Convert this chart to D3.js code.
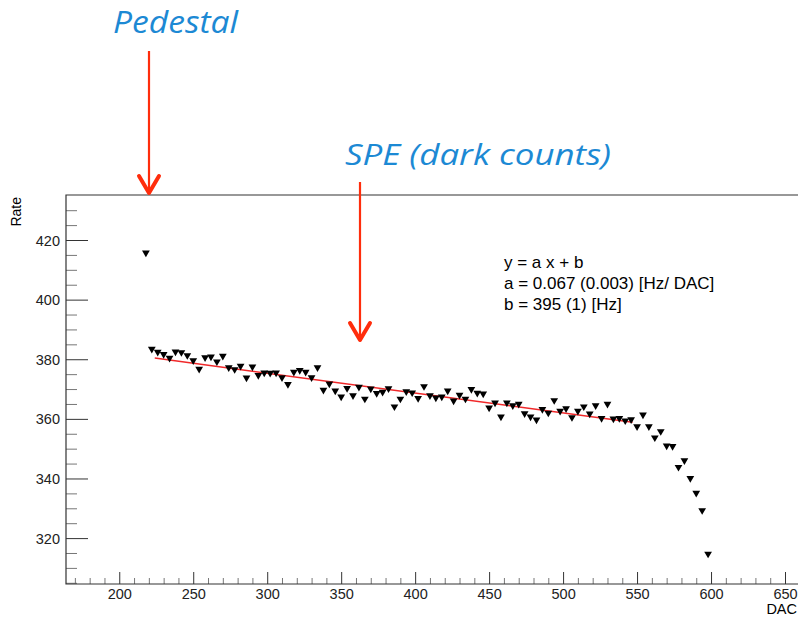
<!DOCTYPE html>
<html>
<head>
<meta charset="utf-8">
<script src="https://cdn.jsdelivr.net/npm/d3@7"></script>
<style>
  body { margin: 0; background: #fff; }
  svg { display: block; }
  .axis text { font-family: "Liberation Sans", Arial, sans-serif; font-size: 14.5px; fill: #222; }
</style>
</head>
<body>
<div id="chart"></div>
<script>
// DAC threshold scan (x) and counting rate (y)
const dacValues = [218, 222, 226, 230, 234, 238, 242, 246, 250, 254, 258, 262, 266, 270, 274, 278,
  282, 286, 290, 294, 298, 302, 306, 310, 314, 318, 322, 326, 330, 334, 338, 342,
  346, 350, 354, 358, 362, 366, 370, 374, 378, 382, 386, 390, 394, 398, 402, 406,
  410, 414, 418, 422, 426, 430, 434, 438, 442, 446, 450, 454, 458, 462, 466, 470,
  474, 478, 482, 486, 490, 494, 498, 502, 506, 510, 514, 518, 522, 526, 530, 534,
  538, 542, 546, 550, 554, 558, 562, 566, 570, 574, 578, 582, 586, 590, 594, 598];
const rateValues = [415.7, 383.4, 382.4, 381.7, 380.4, 382.5, 382.3, 381.3, 379.6, 376.7, 380.6, 380.8, 379.2, 381.1, 377.2, 376.6,
  377.7, 373.8, 377.5, 374.6, 375.5, 375.4, 375.5, 373.9, 371.6, 375.7, 376.3, 375.7, 373.9, 377.2, 369.7, 371.8,
  369.4, 367.4, 370.3, 367.8, 370.7, 366.7, 370.1, 368.6, 369.0, 370.2, 364.1, 366.7, 369.2, 368.8, 366.9, 370.9,
  367.8, 367.1, 367.4, 369.4, 366.1, 368.0, 366.7, 369.9, 368.7, 368.4, 363.7, 365.4, 360.7, 365.4, 364.5, 365.0,
  361.8, 360.7, 359.7, 363.2, 362.0, 366.2, 362.6, 363.5, 360.5, 362.6, 364.1, 361.7, 364.5, 360.2, 365.0, 360.0,
  360.2, 359.4, 359.8, 357.4, 361.4, 357.4, 353.7, 355.8, 351.0, 350.8, 343.8, 346.0, 340.1, 335.1, 329.3, 314.7];

// linear fit y = a x + b over the plateau
const fitA = -0.0666;
const fitB = 395.3;
const fitRange = [224, 547];
const fitLabels = ['y = a x + b', 'a = 0.067 (0.003) [Hz/ DAC]', 'b = 395 (1) [Hz]'];

const xMajorTicks = [200, 250, 300, 350, 400, 450, 500, 550, 600, 650];
const yMajorTicks = [320, 340, 360, 380, 400, 420];

// annotations with their arrows
const notes = [
  { label: 'Pedestal', x: 113, y: 33, w: 125, size: 31, arrowX: 149, y0: 51, y1: 195 },
  { label: 'SPE (dark counts)', x: 345, y: 165, w: 266, size: 29, arrowX: 360, y0: 182, y1: 342 }
];

const width = 798, height = 621;
const plotLeft = 66, plotTop = 195, plotBottom = 584;

const svg = d3.select('#chart').append('svg')
  .attr('width', width)
  .attr('height', height);

const x = d3.scaleLinear().domain([164, 660]).range([plotLeft, 799.8]);
const y = d3.scaleLinear().domain([304.6, 435.1]).range([plotBottom, plotTop]);

// minor ticks
const xMinor = d3.range(170, 660, 10).filter(v => v % 50 !== 0);
const yMinor = d3.range(305, 435, 5).filter(v => v % 20 !== 0);

svg.append('g')
  .attr('transform', `translate(0,${plotBottom})`)
  .call(d3.axisBottom(x).tickValues(xMinor).tickSize(-6).tickFormat(''))
  .call(g => g.select('.domain').remove())
  .call(g => g.selectAll('line').attr('stroke', '#777'));

svg.append('g')
  .attr('class', 'axis')
  .attr('transform', `translate(0,${plotBottom})`)
  .call(d3.axisBottom(x).tickValues(xMajorTicks).tickSize(-12).tickPadding(5))
  .call(g => g.select('.domain').remove())
  .call(g => g.selectAll('line').attr('stroke', '#333'));

svg.append('g')
  .attr('transform', `translate(${plotLeft},0)`)
  .call(d3.axisLeft(y).tickValues(yMinor).tickSize(-11).tickFormat(''))
  .call(g => g.select('.domain').remove())
  .call(g => g.selectAll('line').attr('stroke', '#777'));

svg.append('g')
  .attr('class', 'axis')
  .attr('transform', `translate(${plotLeft},0)`)
  .call(d3.axisLeft(y).tickValues(yMajorTicks).tickSize(-22).tickPadding(6))
  .call(g => g.select('.domain').remove())
  .call(g => g.selectAll('line').attr('stroke', '#333'))
  .call(g => g.selectAll('text').attr('dy', '0.35em'));

// frame
svg.append('path')
  .attr('d', `M${width},${plotTop}H${plotLeft}V${plotBottom}H${width}`)
  .attr('fill', 'none')
  .attr('stroke', '#333')
  .attr('stroke-width', 1.2);

// axis titles
svg.append('text')
  .attr('transform', `translate(21,${plotTop + 2}) rotate(-90)`)
  .attr('text-anchor', 'end')
  .style('font-family', '"Liberation Sans", Arial, sans-serif')
  .style('font-size', '14px')
  .text('Rate');

svg.append('text')
  .attr('x', 797)
  .attr('y', 614)
  .attr('text-anchor', 'end')
  .style('font-family', '"Liberation Sans", Arial, sans-serif')
  .style('font-size', '14.5px')
  .text('DAC');

// fit line
const fitLine = d3.line()
  .x(d => x(d))
  .y(d => y(fitA * d + fitB));

svg.append('path')
  .datum(fitRange)
  .attr('d', fitLine)
  .attr('fill', 'none')
  .attr('stroke', '#f0282a')
  .attr('stroke-width', 1.5);

// data points (filled down triangles)
const marker = d3.symbol().type(d3.symbolTriangle).size(26);

svg.append('g')
  .selectAll('path')
  .data(dacValues)
  .join('path')
  .attr('d', marker)
  .attr('transform', (d, i) => `translate(${x(d)},${y(rateValues[i])}) rotate(180)`)
  .attr('fill', '#000');

// fit result box
svg.append('g')
  .selectAll('text')
  .data(fitLabels)
  .join('text')
  .attr('x', 504)
  .attr('y', (d, i) => 268 + i * 20.8)
  .style('font-family', '"Liberation Sans", Arial, sans-serif')
  .style('font-size', '17px')
  .text(d => d);

// annotations with arrows
const noteBlue = '#1c89d4';
const arrowRed = '#ff2d0c';

notes.forEach(n => {
  svg.append('text')
    .attr('x', n.x)
    .attr('y', n.y)
    .attr('textLength', n.w)
    .attr('lengthAdjust', 'spacingAndGlyphs')
    .style('font-family', '"Comic Sans MS", "Open Sans", sans-serif')
    .style('font-style', 'italic')
    .style('font-size', n.size + 'px')
    .style('fill', noteBlue)
    .text(n.label);

  svg.append('line')
    .attr('x1', n.arrowX).attr('x2', n.arrowX)
    .attr('y1', n.y0).attr('y2', n.y1 - 2)
    .attr('stroke', arrowRed)
    .attr('stroke-width', 2.2);

  svg.append('path')
    .attr('d', `M${n.arrowX - 10},${n.y1 - 19}L${n.arrowX},${n.y1 - 2}L${n.arrowX + 10},${n.y1 - 19}`)
    .attr('fill', 'none')
    .attr('stroke', arrowRed)
    .attr('stroke-width', 4)
    .attr('stroke-linecap', 'round')
    .attr('stroke-linejoin', 'round');
});
</script>
</body>
</html>
